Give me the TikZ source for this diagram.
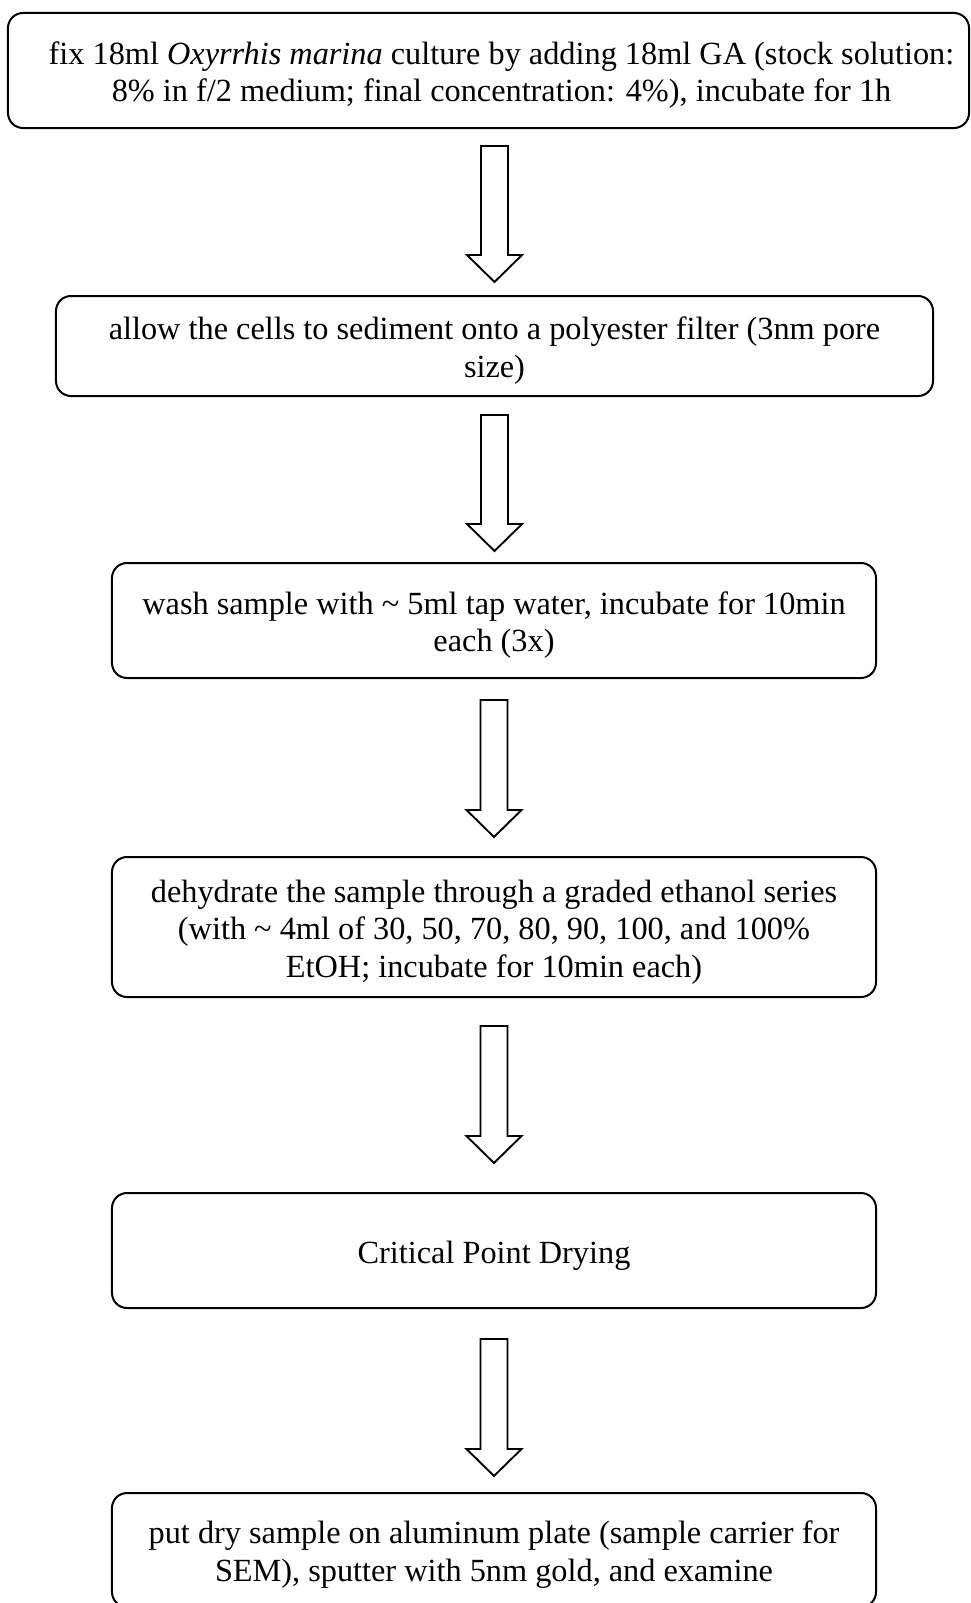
\documentclass[tikz,border=0pt]{standalone}
\usepackage{fontspec}
\setmainfont{Liberation Serif}
\usetikzlibrary{calc}

% centred lines of a step, set a little below the box centre;
% the optional argument pads the left side to push the lines right
\newcommand{\steptext}[2][0bp]{\hspace*{#1}\raisebox{-5bp}[\height][\depth]{\begin{tabular}{@{}c@{}}#2\end{tabular}}}

\tikzset{
  stepbox/.style={draw, line width=2bp, rounded corners=15bp,
    inner sep=0pt, font=\fontsize{32.3bp}{37.5bp}\selectfont},
  blockarrow/.style={draw, line width=1.9bp, fill=white,
    to path={let \p1=(\tikztostart), \p2=(\tikztotarget) in
      (\x1-13.5bp,\y1) -- (\x1+13.5bp,\y1) -- (\x1+13.5bp,\y2+27bp)
      -- (\x1+27.5bp,\y2+27bp) -- (\x1,\y2) -- (\x1-27.5bp,\y2+27bp)
      -- (\x1-13.5bp,\y2+27bp) -- cycle}}
}

\begin{document}
\begin{tikzpicture}[x=1bp,y=-1bp]
\useasboundingbox (0,0) rectangle (970,1603);

% process steps
\node[stepbox, minimum width=961bp, minimum height=115bp] (b1) at (488.5,70.5)
  {\steptext[26bp]{fix 18ml \textit{Oxyrrhis marina} culture by adding 18ml GA (stock solution:\\
   8\% in f/2 medium; final concentration: 4\%), incubate for 1h}};
\node[stepbox, minimum width=877bp, minimum height=100bp] (b2) at (494.5,346)
  {\steptext{allow the cells to sediment onto a polyester filter (3nm pore\\ size)}};
\node[stepbox, minimum width=764bp, minimum height=115bp] (b3) at (494,620.5)
  {\steptext{wash sample with \textasciitilde{} 5ml tap water, incubate for 10min\\ each (3x)}};
\node[stepbox, minimum width=764bp, minimum height=140bp] (b4) at (494,927)
  {\steptext{dehydrate the sample through a graded ethanol series\\
   (with \textasciitilde{} 4ml of 30, 50, 70, 80, 90, 100, and 100\%\\
   EtOH; incubate for 10min each)}};
\node[stepbox, minimum width=764bp, minimum height=115bp] (b5) at (494,1250.5)
  {\steptext{Critical Point Drying}};
\node[stepbox, minimum width=764bp, minimum height=114bp] (b6) at (494,1550)
  {\steptext{put dry sample on aluminum plate (sample carrier for\\
   SEM), sputter with 5nm gold, and examine}};

% arrow ends
\coordinate (a1s) at ($(b1.south)+(6,17)$);
\coordinate (a1e) at ($(b2.north)+(0,-13)$);
\coordinate (a2s) at ($(b2.south)+(0,18)$);
\coordinate (a2e) at ($(b3.north)+(0,-11)$);
\coordinate (a3s) at ($(b3.south)+(0,21)$);
\coordinate (a3e) at ($(b4.north)+(0,-19)$);
\coordinate (a4s) at ($(b4.south)+(0,28)$);
\coordinate (a4e) at ($(b5.north)+(0,-29)$);
\coordinate (a5s) at ($(b5.south)+(0,30)$);
\coordinate (a5e) at ($(b6.north)+(0,-16)$);

% hollow block arrows between steps
\draw[blockarrow] (a1s) to (a1e);
\draw[blockarrow] (a2s) to (a2e);
\draw[blockarrow] (a3s) to (a3e);
\draw[blockarrow] (a4s) to (a4e);
\draw[blockarrow] (a5s) to (a5e);
\end{tikzpicture}
\end{document}
